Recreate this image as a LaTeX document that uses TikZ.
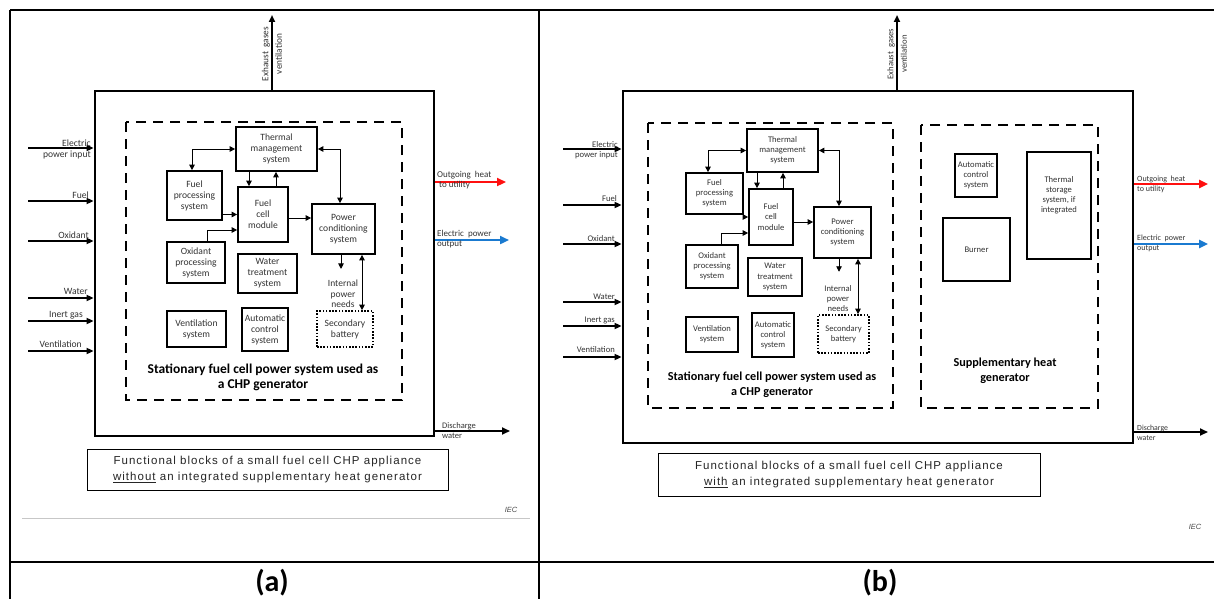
\documentclass[tikz,border=0pt]{standalone}
\usepackage{fontspec}
\setmainfont{Carlito}
\newfontfamily\capfont[LetterSpace=9]{Liberation Sans}
\newfontfamily\arialf{Liberation Sans}
\usetikzlibrary{arrows.meta,calc}
\definecolor{cred}{HTML}{FF1010}
\definecolor{cblue}{HTML}{1A7AD0}
\tikzset{
  sz/.style 2 args={minimum width=#1pt, minimum height=#2pt},
  blk/.style={draw, line width=1.7pt, inner sep=0pt, align=center, text=black!80},
  dotblk/.style={blk, dash pattern=on 1.6pt off 1.6pt},
  fa/.style={font=\fontsize{9.6}{11}\selectfont},
  fb/.style={font=\fontsize{8.6}{10.2}\selectfont},
  lbl/.style={inner sep=0pt, text=black!80},
  dbox/.style={draw, line width=2.6pt, dash pattern=on 10pt off 7pt},
  obox/.style={draw, line width=2.8pt, inner sep=0pt},
  ar/.style={line width=0.9pt, -{Triangle[length=5.5pt,width=5.5pt]}},
  arr/.style={line width=0.9pt, {Triangle[length=5.5pt,width=5.5pt]}-{Triangle[length=5.5pt,width=5.5pt]}},
  inar/.style={line width=1.8pt, -{Triangle[length=7pt,width=6pt]}},
  outar/.style={line width=2.4pt, -{Triangle[length=9pt,width=8pt]}},
  boldA/.style={inner sep=0pt, align=center, font=\bfseries\fontsize{13.5}{15}\selectfont},
  boldB/.style={inner sep=0pt, align=center, font=\bfseries\fontsize{12.2}{15}\selectfont},
  captionbox/.style={draw, line width=0.8pt, inner sep=0pt, align=center, text=black!85,
              font=\capfont\fontsize{11.5}{16.5}\selectfont},
  iec/.style={inner sep=0pt, text=black!70, font=\arialf\itshape\fontsize{7.5}{9}\selectfont},
  panel/.style={inner sep=0pt, font=\bfseries\fontsize{30}{32}\selectfont}
}
\begin{document}
\begin{tikzpicture}[x=1pt,y=-1pt]
\useasboundingbox (0,0) rectangle (1214,599);
\fill[white] (0,0) rectangle (1214,599);
% table frame
\draw[line width=1.6pt] (10,10) -- (1214,10);
\draw[line width=1.6pt] (10,10) -- (10,599);
\draw[line width=1.6pt] (539,10) -- (539,599);
\draw[line width=1.6pt] (10,562) -- (1214,562);

% ================= PANEL A =================
\node[obox, sz={339}{345}] (outA) at (264.5,263.5) {};
\draw[dbox] (126,122) rectangle (402,400);
\node[blk,fa,sz={81}{44}] (tmA) at (276.5,149) {Thermal\\management\\system};
\node[blk,fa,sz={55}{49}] (fpA) at (194.5,195.5) {Fuel\\processing\\system};
\node[blk,fa,sz={50}{55}] (fcA) at (263,214.5) {Fuel\\cell\\module};
\node[blk,fa,sz={63}{50}] (pcA) at (343.5,229) {Power\\conditioning\\system};
\node[blk,fa,sz={58}{41}] (opA) at (196,262.5) {Oxidant\\processing\\system};
\node[blk,fa,sz={59}{39}] (wtA) at (267.5,273.5) {Water\\treatment\\system};
\node[blk,fa,sz={59}{36}] (vsA) at (196.5,329) {Ventilation\\system};
\node[blk,fa,sz={46}{43}] (acA) at (265,329.5) {Automatic\\control\\system};
\node[dotblk,fa,sz={56}{36}] (sbA) at (345,329) {Secondary\\battery};
\node[lbl,align=center,font=\fontsize{9.5}{10.5}\selectfont] (ipA) at (343,294) {Internal\\power\\needs};
\node[boldA] (stA) at (263,377.5) {Stationary fuel cell power system used as\\a CHP generator};

\draw[arr] (tmA.west) -| ($(fpA.north)+(-2.5,0)$);
\draw[ar] ($(fcA.north |- tmA.south)+(-14,0)$) -- ($(fcA.north)+(-14,0)$);
\draw[ar] ($(fcA.north)+(13,0)$) -- ($(fcA.north |- tmA.south)+(13,0)$);
\draw[ar] (fcA.west -| fpA.east) -- (fcA.west);
\draw[ar] ($(opA.north)+(11,0)$) |- ($(fcA.west)+(0,15.5)$);
\draw[ar] ($(fcA.east)+(0,3.5)$) -- ($(fcA.east -| pcA.west)+(0,3.5)$);
\draw[arr] (tmA.east) -| ($(pcA.north)+(-3.5,0)$);
\draw[ar, shorten >=11pt] ($(pcA.south)+(-2.5,0)$) -- ($(pcA.south |- ipA.north)+(-2.5,0)$);
\draw[arr] ($(pcA.south)+(18.5,0)$) -- ($(pcA.south |- sbA.north)+(18.5,0)$);

% exhaust A
\coordinate (exA) at (272,15);
\draw[inar] (exA |- outA.north) -- (exA);
\node[lbl, rotate=90, align=center, font=\fontsize{9.3}{13.5}\selectfont] (exlA) at (272,54) {Exhaust\ \ gases\\ventilation};

% inputs A
\coordinate (iA1) at (28,148);
\coordinate (iA2) at (28,201);
\coordinate (iA3) at (28,241);
\coordinate (iA4) at (28,298);
\coordinate (iA5) at (28,321);
\coordinate (iA6) at (28,351);
\foreach \c in {iA1,iA2,iA3,iA4,iA5,iA6} \draw[inar] (\c) -- (\c -| outA.west);
\node[lbl,fa,anchor=east,align=right] (lA1) at (91,149) {Electric\\power input};
\node[lbl,fa,anchor=base east] (lA2) at (89,198) {Fuel};
\node[lbl,fa,anchor=base east] (lA3) at (89,238) {Oxidant};
\node[lbl,fa,anchor=base east] (lA4) at (88,294.5) {Water};
\node[lbl,fa,anchor=base east] (lA5) at (83,317) {Inert gas};
\node[lbl,fa,anchor=base east] (lA6) at (82,347) {Ventilation};

% outputs A
\coordinate (oA1) at (506,182);
\coordinate (oA2) at (509,240);
\coordinate (oA3) at (510,431);
\draw[outar, cred] (oA1 -| outA.east) -- (oA1);
\draw[outar, cblue] (oA2 -| outA.east) -- (oA2);
\draw[line width=1.8pt, -{Triangle[length=8pt,width=7pt]}] (oA3 -| outA.east) -- (oA3);
\node[lbl,anchor=west,align=left,font=\fontsize{9}{10}\selectfont] (olA1) at (437,180.5) {Outgoing\ \ heat\\\ to utility};
\node[lbl,anchor=west,align=left,font=\fontsize{9}{10}\selectfont] (olA2) at (437,239.5) {Electric\ \ power\\output};
\node[lbl,anchor=west,align=left,font=\fontsize{8.5}{10}\selectfont] (olA3) at (442,431) {Discharge\\water};

% caption A
\node[captionbox, sz={361}{41}] (capA) at (267.5,469.5) {Functional blocks of a small fuel cell CHP appliance\\\underline{without} an integrated supplementary heat generator};
\draw[black!22, line width=0.8pt] (22,518) -- (530,518);
\node[iec] (iecA) at (511,510) {IEC};
\node[panel] (labA) at (272,583) {(a)};

% ================= PANEL B =================
\node[obox, sz={510}{352}] (outB) at (878,267) {};
\draw[dbox] (648,123) rectangle (893,408);
\draw[dbox] (921,125) rectangle (1098,408);
\node[blk,fb,sz={71}{43}] (tmB) at (782.5,150.5) {Thermal\\management\\system};
\node[blk,fb,sz={57}{41}] (fpB) at (714.5,193.5) {Fuel\\processing\\system};
\node[blk,fb,sz={44}{56}] (fcB) at (771,217) {Fuel\\cell\\module};
\node[blk,fb,sz={57}{51}] (pcB) at (842.5,232.5) {Power\\conditioning\\system};
\node[blk,fb,sz={52}{43}] (opB) at (712,266.5) {Oxidant\\processing\\system};
\node[blk,fb,sz={54}{38}] (wtB) at (775,277) {Water\\treatment\\system};
\node[blk,fb,sz={52}{35}] (vsB) at (712,334.5) {Ventilation\\system};
\node[blk,fb,sz={42}{44}] (acB) at (773,335) {Automatic\\control\\system};
\node[dotblk,fb,sz={51}{38}] (sbB) at (843.5,334) {Secondary\\battery};
\node[lbl,align=center,font=\fontsize{8.6}{10}\selectfont] (ipB) at (838,299) {Internal\\power\\needs};
\node[boldB] (stB) at (772,384.5) {Stationary fuel cell power system used as\\a CHP generator};

\draw[arr] (tmB.west) -| ($(fpB.north)+(-6.5,0)$);
\draw[ar] ($(fcB.north |- tmB.south)+(-14,0)$) -- ($(fcB.north)+(-14,0)$);
\draw[ar] ($(fcB.north)+(12,0)$) -- ($(fcB.north |- tmB.south)+(12,0)$);
\draw[ar] (fcB.west -| fpB.east) -- (fcB.west);
\draw[ar] ($(opB.north)+(9,0)$) |- ($(fcB.west)+(0,16)$);
\draw[ar] ($(fcB.east)+(0,5)$) -- ($(fcB.east -| pcB.west)+(0,5)$);
\draw[arr] (tmB.east) -| ($(pcB.north)+(-3.5,0)$);
\draw[ar, shorten >=14pt] ($(pcB.south)+(-3.5,0)$) -- ($(pcB.south |- ipB.north)+(-3.5,0)$);
\draw[arr] ($(pcB.south)+(15.5,0)$) -- ($(pcB.south |- sbB.north)+(15.5,0)$);

% supplementary heat generator
\node[blk,fb,sz={42}{43}] (ac2B) at (976,175.5) {Automatic\\control\\system};
\node[blk,sz={64}{107},label={[lbl,align=center,font=\fontsize{8.6}{10}\selectfont,yshift=10pt]center:Thermal\\storage\\system, if\\integrated}] (tsB) at (1059,205.5) {};
\node[blk,fb,sz={67}{63}] (buB) at (976.5,249.5) {Burner};
\node[boldB] (shB) at (1005,370.5) {Supplementary heat\\generator};

% exhaust B
\coordinate (exB) at (897,15);
\draw[inar] (exB |- outB.north) -- (exB);
\node[lbl, rotate=90, align=center, font=\fontsize{8.7}{13.5}\selectfont] (exlB) at (897,54) {Exhaust\ \ gases\\ventilation};

% inputs B
\coordinate (iB1) at (563,149);
\coordinate (iB2) at (563,205);
\coordinate (iB3) at (563,244);
\coordinate (iB4) at (563,302);
\coordinate (iB5) at (563,326);
\coordinate (iB6) at (563,357);
\foreach \c in {iB1,iB2,iB3,iB4,iB5,iB6} \draw[inar] (\c) -- (\c -| outB.west);
\node[lbl,fb,anchor=east,align=right] (lB1) at (618,150) {Electric\\power input};
\node[lbl,fb,anchor=base east] (lB2) at (617,201) {Fuel};
\node[lbl,fb,anchor=base east] (lB3) at (615,241) {Oxidant};
\node[lbl,fb,anchor=base east] (lB4) at (615,299) {Water};
\node[lbl,fb,anchor=base east] (lB5) at (615,322) {Inert gas};
\node[lbl,fb,anchor=base east] (lB6) at (615,352) {Ventilation};

% outputs B
\coordinate (oB1) at (1208,184);
\coordinate (oB2) at (1208,244);
\coordinate (oB3) at (1208,432);
\draw[outar, cred] (oB1 -| outB.east) -- (oB1);
\draw[outar, cblue] (oB2 -| outB.east) -- (oB2);
\draw[line width=1.8pt, -{Triangle[length=8pt,width=7pt]}] (oB3 -| outB.east) -- (oB3);
\node[lbl,anchor=west,align=left,font=\fontsize{8}{10}\selectfont] (olB1) at (1137,184.5) {Outgoing\ \ heat\\to utility};
\node[lbl,anchor=west,align=left,font=\fontsize{8}{10}\selectfont] (olB2) at (1137,243.5) {Electric\ \ power\\output};
\node[lbl,anchor=west,align=left,font=\fontsize{7.8}{10}\selectfont] (olB3) at (1137,432.5) {Discharge\\water};

% caption B
\node[captionbox, sz={382}{43}] (capB) at (849,474.5) {Functional blocks of a small fuel cell CHP appliance\\\underline{with} an integrated supplementary heat generator};
\node[iec] (iecB) at (1195,527) {IEC};
\node[panel] (labB) at (880,583) {(b)};
\end{tikzpicture}
\end{document}
